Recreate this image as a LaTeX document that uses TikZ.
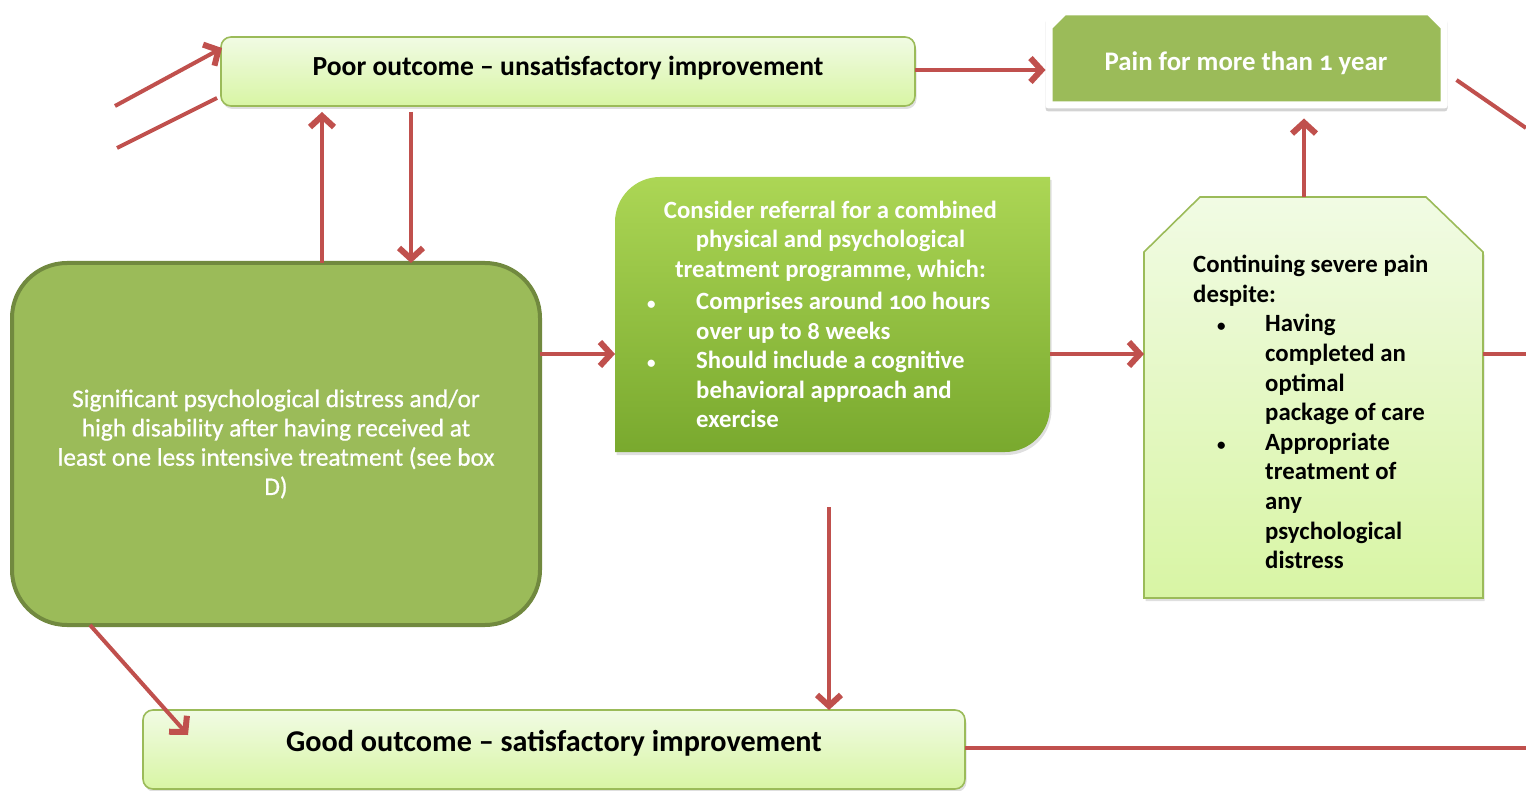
\documentclass[tikz,border=0pt]{standalone}
\usepackage{fontspec}
\setmainfont{Carlito}[Numbers=OldStyle]
\newfontfamily\semibold{Carlito}[Numbers=OldStyle, FakeBold=0.8]
\usetikzlibrary{arrows.meta,calc,shadows}
\definecolor{olive}{HTML}{9BBB59}
\definecolor{olivedark}{HTML}{71893F}
\definecolor{arrowred}{HTML}{C0504D}
\definecolor{paleA}{HTML}{F1FBE4}
\definecolor{paleB}{HTML}{D8F5A4}
\definecolor{brightA}{HTML}{ACD655}
\definecolor{brightB}{HTML}{79A92E}
\newcommand{\bul}{{\fontsize{17}{17}\selectfont •}}

\begin{document}
\begin{tikzpicture}[x=1pt,y=-1pt,
  arr/.style={draw=arrowred, line width=4pt, -{Straight Barb[length=11pt,width=24pt,line width=6pt]}},
  plainline/.style={draw=arrowred, line width=4pt},
  holder/.style={rectangle, inner sep=0pt, outer sep=0pt},
  softshadow/.style={drop shadow={opacity=0.25, shadow xshift=1.5pt, shadow yshift=-3pt}},
  outcome/.style={holder, rounded corners=10pt, draw=olive, line width=1.6pt,
    top color=paleA, bottom color=paleB, softshadow},
  paleshape/.style={draw=olive, line width=1.6pt, top color=paleA, bottom color=paleB, softshadow},
  blk/.style={inner sep=0pt, text=black, font=\bfseries\fontsize{24.8}{29.6}\selectfont},
  wht/.style={inner sep=0pt, text=white, font=\bfseries\fontsize{24.8}{29.5}\selectfont}]
\useasboundingbox (0,0) rectangle (1526,791);

% outcome boxes
\node[outcome, minimum width=694pt, minimum height=69pt] (poor) at (568,71.5) {};
\node[outcome, minimum width=822pt, minimum height=79pt] (good) at (554,749.5) {};

% distress box
\node[holder, rounded corners=55pt, draw=olivedark, line width=4pt, fill=olive,
      minimum width=528pt, minimum height=362pt] (big) at (276,444) {};

% combined programme box: rounded top-left and bottom-right corners
\node[holder, minimum width=435pt, minimum height=275pt] (ctr) at (832.5,314.5) {};
\path[top color=brightA, bottom color=brightB, softshadow]
  (ctr.south west) -- ($(ctr.north west)+(0,45)$) arc[start angle=180,end angle=90,radius=45pt]
  -- (ctr.north east) -- ($(ctr.south east)+(0,-45)$) arc[start angle=0,end angle=-90,radius=45pt]
  -- cycle;

% continuing pain box with snipped top corners
\node[holder, minimum width=339pt, minimum height=401pt] (rbox) at (1313.5,397.5) {};
\path[paleshape] (rbox.south west) -- ($(rbox.north west)+(0,55)$) -- ($(rbox.north west)+(56,0)$)
  -- ($(rbox.north east)+(-57,0)$) -- ($(rbox.north east)+(0,55)$) -- (rbox.south east) -- cycle;

% pain > 1 year: white frame with green panel
\node[holder, minimum width=402pt, minimum height=101pt] (pain) at (1246.5,58) {};
\path[fill=white, rounded corners=3pt, drop shadow={opacity=0.35, shadow xshift=0pt, shadow yshift=-3pt}]
  (pain.south west) -- ($(pain.north west)+(0,10)$) -- ($(pain.north west)+(10,0)$)
  -- ($(pain.north east)+(-10,0)$) -- ($(pain.north east)+(0,10)$) -- (pain.south east) -- cycle;
\fill[olive] ($(pain.south west)+(7,-7)$) -- ($(pain.north west)+(7,21)$) -- ($(pain.north west)+(20,8)$)
  -- ($(pain.north east)+(-20,8)$) -- ($(pain.north east)+(-7,21)$) -- ($(pain.south east)+(-7,-7)$) -- cycle;

% texts
\node[blk, font=\bfseries\fontsize{27.6}{32}\selectfont] (poort) at (568,68)
  {Poor outcome – unsatisfactory improvement};
\node[blk, font=\bfseries\fontsize{30.2}{34}\selectfont] (goodt) at (554,743)
  {Good outcome – satisfactory improvement};
\node[wht, font=\bfseries\fontsize{26.8}{30}\selectfont] (paint) at (1246,63)
  {Pain for more than 1 year};
\node[wht, font=\semibold\fontsize{25.3}{29.3}\selectfont, align=center] (bigt) at (276,444)
  {Significant psychological distress and/or\\high disability after having received at\\least one less intensive treatment (see box\\D)};
\node[wht, align=center] (ctrt) at (830.5,241)
  {Consider referral for a combined\\physical and psychological\\treatment programme, which:};
\node[wht, align=left, anchor=west] (ctrl) at (647,360)
  {\makebox[49pt][l]{\bul}Comprises around 100 hours\\
   \hspace*{49pt}over up to 8 weeks\\
   \makebox[49pt][l]{\bul}Should include a cognitive\\
   \hspace*{49pt}behavioral approach and\\
   \hspace*{49pt}exercise};
\node[blk, align=left, anchor=west] (rboxt) at (1193,412)
  {Continuing severe pain\\
   despite:\\
   \hspace*{24pt}\makebox[48pt][l]{\bul}Having\\
   \hspace*{72pt}completed an\\
   \hspace*{72pt}optimal\\
   \hspace*{72pt}package of care\\
   \hspace*{24pt}\makebox[48pt][l]{\bul}Appropriate\\
   \hspace*{72pt}treatment of\\
   \hspace*{72pt}any\\
   \hspace*{72pt}psychological\\
   \hspace*{72pt}distress};

% connectors
\coordinate (inA) at (115,106);
\coordinate (inB) at (117,148);
\coordinate (xup) at (322,0);
\coordinate (xdown) at (411,0);
\coordinate (yrow) at (0,354);
\coordinate (xpain) at (1304,0);
\coordinate (outR) at (1526,354);
\coordinate (outP) at (1526,128);
\coordinate (vtop) at (829,507);
\coordinate (outG) at (1526,748);

\draw[arr] (inA) -- ($(poor.north west)+(1,11)$);
\draw[plainline] (inB) -- ($(poor.south west)+(-4,-8)$);
\draw[arr, shorten >=6pt] (big.north -| xup) -- (poor.south -| xup);
\draw[arr, shorten <=6pt] (poor.south -| xdown) -- (big.north -| xdown);
\draw[arr] (poor.east |- 0,70) -- (pain.west |- 0,70);
\draw[arr] (big.east |- yrow) -- (ctr.west |- yrow);
\draw[arr] (ctr.east |- yrow) -- (rbox.west |- yrow);
\draw[plainline] (rbox.east |- yrow) -- (outR);
\draw[arr, shorten >=10pt] (rbox.north -| xpain) -- (pain.south -| xpain);
\draw[plainline] ($(pain.east)+(9,22)$) -- (outP);
\draw[arr] ($(big.south west)+(78,0)$) -- ($(good.north west)+(45,25)$);
\draw[arr] (vtop) -- (good.north -| vtop);
\draw[plainline] (good.east |- outG) -- (outG);
\end{tikzpicture}
\end{document}
